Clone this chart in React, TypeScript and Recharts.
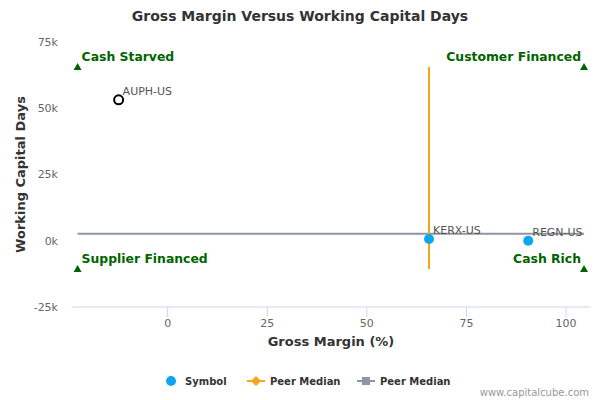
import React from 'react';
import {
  ScatterChart,
  Scatter,
  XAxis,
  YAxis,
  LabelList,
} from 'recharts';

// companies
const symbols = ['AUPH-US', 'KERX-US', 'REGN-US'];
const grossMargin = [-12.3, 65.6, 90.5];
const workingCapitalDays = [53200, 650, 0];
const hollow = [true, false, false];

// peer medians and quadrant corners
const medianMargin = 65.6;
const medianDays = 2600;
const cornerMargin = [-22.6, 104.5];
const cornerDays = [-10700, 65600];
const quadrantNames = ['Supplier Financed', 'Cash Rich', 'Cash Starved', 'Customer Financed'];

const xTicks = [0, 25, 50, 75, 100];
const yTicks = [-25000, 0, 25000, 50000, 75000];

const FONT = '"DejaVu Sans", Verdana, sans-serif';
const GREEN = '#006400';
const BLUE = '#10a5ef';
const ORANGE = '#f7a41d';
const GREY = '#8f96a3';

const companyData = symbols.map((s, i) => ({
  name: s,
  x: grossMargin[i],
  y: workingCapitalDays[i],
  hollow: hollow[i],
}));

const quadrantData = quadrantNames.map((name, i) => ({
  name,
  x: cornerMargin[i % 2],
  y: cornerDays[Math.floor(i / 2)],
  right: i % 2 === 1,
}));

const vLine = cornerDays.map((d) => ({ x: medianMargin, y: d }));
const hLine = cornerMargin.map((m) => ({ x: m, y: medianDays }));

const CompanyDot = (props: any) => {
  const { cx, cy, payload } = props;
  if (payload.hollow) {
    return <circle cx={cx} cy={cy} r={4.5} fill="#fff" stroke="#000" strokeWidth={2} />;
  }
  return <circle cx={cx} cy={cy} r={5} fill={BLUE} />;
};

const QuadrantMark = (props: any) => {
  const { cx, cy, payload } = props;
  return (
    <g>
      <path d={`M${cx},${cy - 4} L${cx + 4},${cy + 3} L${cx - 4},${cy + 3} Z`} fill={GREEN} />
      <text
        x={payload.right ? cx - 3 : cx + 4}
        y={cy - 6}
        textAnchor={payload.right ? 'end' : 'start'}
        fontFamily={FONT}
        fontSize={12.4}
        fontWeight="bold"
        fill={GREEN}
      >
        {payload.name}
      </text>
    </g>
  );
};

const NoShape = () => null;

const LegendBar = () => (
  <svg width={600} height={30} style={{ position: 'absolute', left: 0, top: 368 }}>
    <g fontFamily={FONT} fontSize={10} fontWeight="bold" fill="#333">
      <circle cx={171} cy={13} r={5} fill={BLUE} />
      <text x={185} y={17}>Symbol</text>
      <line x1={247} x2={265} y1={13} y2={13} stroke={ORANGE} strokeWidth={2} />
      <path d="M256,8 L261,13 L256,18 L251,13 Z" fill={ORANGE} />
      <text x={270} y={17}>Peer Median</text>
      <line x1={357} x2={375} y1={13} y2={13} stroke={GREY} strokeWidth={2} />
      <rect x={362} y={9} width={8} height={8} fill={GREY} />
      <text x={380} y={17}>Peer Median</text>
    </g>
    <text x={589} y={28} textAnchor="end" fontFamily={FONT} fontSize={10} fill="#999">
      www.capitalcube.com
    </text>
  </svg>
);

export default function App() {
  return (
    <div style={{ position: 'absolute', left: 0, top: 0, width: 600, height: 400, background: '#fff' }}>
      <ScatterChart width={600} height={400} margin={{ top: 42, right: 10, bottom: 0, left: 0 }}>
        <text x={300} y={21} textAnchor="middle" fontFamily={FONT} fontSize={14} fontWeight="bold" fill="#333">
          Gross Margin Versus Working Capital Days
        </text>
        <XAxis
          type="number"
          dataKey="x"
          domain={[-24, 106]}
          ticks={xTicks}
          allowDataOverflow
          stroke="#ccd6eb"
          tickSize={10}
          tick={{ fill: '#666', fontSize: 11, fontFamily: FONT }}
          label={{
            value: 'Gross Margin (%)',
            position: 'insideBottom',
            offset: 54,
            style: { fill: '#333', fontSize: 13, fontWeight: 'bold', fontFamily: FONT },
          }}
          height={93}
        />
        <YAxis
          type="number"
          dataKey="y"
          domain={[-25000, 75000]}
          ticks={yTicks}
          allowDataOverflow
          width={72}
          axisLine={false}
          tickLine={false}
          tickFormatter={(v: number) => `${v / 1000}k`}
          tick={{ fill: '#666', fontSize: 11, fontFamily: FONT, dx: -6 }}
          label={{
            value: 'Working Capital Days',
            angle: -90,
            position: 'insideLeft',
            offset: 20,
            style: { fill: '#333', fontSize: 13, fontWeight: 'bold', fontFamily: FONT, textAnchor: 'middle' },
          }}
        />
        <Scatter data={hLine} line={{ stroke: GREY, strokeWidth: 2 }} shape={NoShape} isAnimationActive={false} />
        <Scatter data={vLine} line={{ stroke: ORANGE, strokeWidth: 2 }} shape={NoShape} isAnimationActive={false} />
        <Scatter data={quadrantData} shape={QuadrantMark} isAnimationActive={false} />
        <Scatter data={companyData} shape={CompanyDot} isAnimationActive={false}>
          <LabelList
            dataKey="name"
            content={(p: any) => (
              <text x={p.x + p.width / 2 + 4} y={p.y + p.height / 2 - 5} fontFamily={FONT} fontSize={11} fill="#555">
                {p.value}
              </text>
            )}
          />
        </Scatter>
      </ScatterChart>
      <LegendBar />
    </div>
  );
}
